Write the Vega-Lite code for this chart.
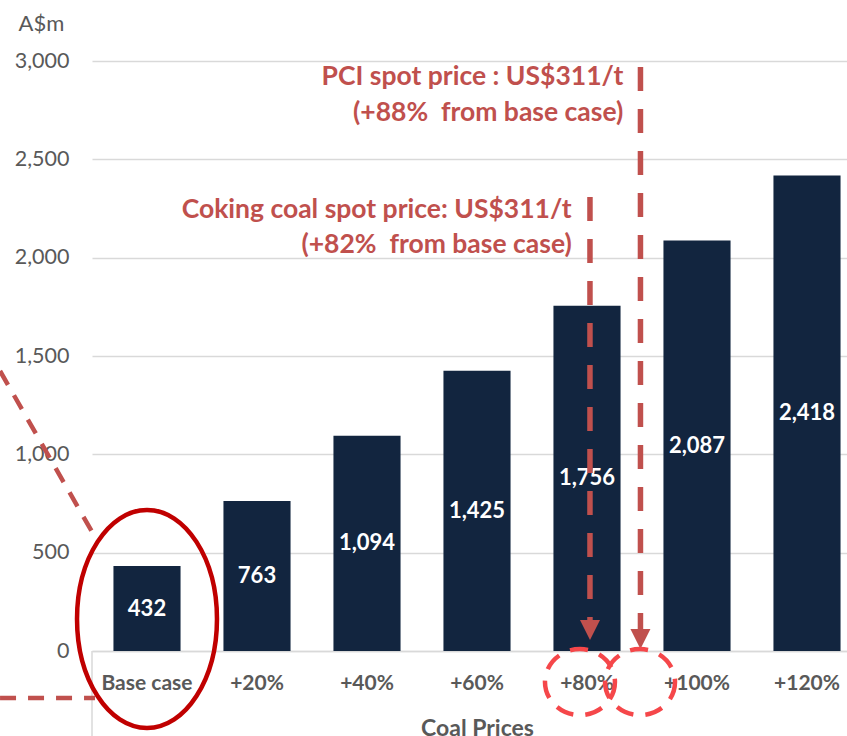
{
  "$schema": "https://vega.github.io/schema/vega-lite/v6.json",
  "width": 770,
  "height": 590,
  "autosize": {"type": "none"},
  "padding": {"left": 92, "top": 61, "right": 0, "bottom": 85},
  "config": {"view": {"stroke": null}, "font": "Lato"},
  "datasets": {
    "bars": [
      {"case": "Base case", "value": 432},
      {"case": "+20%", "value": 763},
      {"case": "+40%", "value": 1094},
      {"case": "+60%", "value": 1425},
      {"case": "+80%", "value": 1756},
      {"case": "+100%", "value": 2087},
      {"case": "+120%", "value": 2418}
    ]
  },
  "resolve": {"scale": {"x": "independent", "y": "independent"}},
  "layer": [
    {
      "data": {"name": "bars"},
      "mark": {"type": "bar", "color": "#12253f"},
      "encoding": {
        "x": {
          "field": "case", "type": "nominal", "sort": null,
          "scale": {"paddingInner": 0.39, "paddingOuter": 0.195},
          "axis": {
            "title": "Coal Prices", "titleFontSize": 23, "titleFontWeight": "bold", "titleColor": "#595959",
            "titlePadding": 24,
            "labelFontSize": 21, "labelFontWeight": "bold", "labelColor": "#595959", "labelAngle": 0,
            "labelPadding": 21, "ticks": false, "domainColor": "#d9d9d9", "domainWidth": 1.5
          }
        },
        "y": {
          "field": "value", "type": "quantitative",
          "scale": {"domain": [0, 3000], "nice": false},
          "axis": {
            "values": [0, 500, 1000, 1500, 2000, 2500, 3000], "format": ",.0f",
            "labelFontSize": 21.5, "labelColor": "#595959", "labelPadding": 23,
            "ticks": false, "domain": false, "gridColor": "#d9d9d9", "gridWidth": 1.5,
            "title": "A$m", "titleAngle": 0, "titleAlign": "left", "titleBaseline": "middle",
            "titleX": -74, "titleY": -38, "titleFontSize": 22, "titleFontWeight": "normal", "titleColor": "#595959"
          }
        }
      }
    },
    {
      "data": {"name": "bars"},
      "mark": {"type": "text", "color": "white", "fontWeight": "bold", "fontSize": 22, "baseline": "middle"},
      "encoding": {
        "x": {"field": "case", "type": "nominal", "sort": null, "scale": {"paddingInner": 0.39, "paddingOuter": 0.195}, "axis": null},
        "y": {"field": "value", "type": "quantitative", "scale": {"domain": [0, 6000], "nice": false}, "axis": null},
        "text": {"field": "value", "type": "quantitative", "format": ",.0f"}
      }
    },
    {
      "layer": [
        {
          "data": {"values": [
            {"x": 0, "y": 0, "y2": -450}
          ]},
          "mark": {"type": "rule", "color": "#d9d9d9", "strokeWidth": 1.5},
          "encoding": {
            "x": {"field": "x", "type": "quantitative", "scale": {"domain": [0, 7], "nice": false, "zero": false}, "axis": null},
            "y": {"field": "y", "type": "quantitative", "scale": {"domain": [0, 3000], "nice": false, "zero": false}, "axis": null},
            "y2": {"field": "y2"}
          }
        },
        {
          "data": {"values": [
            {"x": 4.527, "y": 2308, "y2": 150},
            {"x": 4.986, "y": 2970, "y2": 105}
          ]},
          "mark": {"type": "rule", "color": "#c0504d", "strokeWidth": 5.5, "strokeDash": [24, 18]},
          "encoding": {
            "x": {"field": "x", "type": "quantitative", "scale": {"domain": [0, 7], "nice": false, "zero": false}, "axis": null},
            "y": {"field": "y", "type": "quantitative", "scale": {"domain": [0, 3000], "nice": false, "zero": false}, "axis": null},
            "y2": {"field": "y2"}
          }
        },
        {
          "data": {"values": [
            {"x": -0.836, "y": 1424, "x2": 0.027, "y2": 580},
            {"x": -0.836, "y": -239, "x2": 0.027, "y2": -239}
          ]},
          "mark": {"type": "rule", "color": "#c0504d", "strokeWidth": 4.5, "strokeDash": [16, 12]},
          "encoding": {
            "x": {"field": "x", "type": "quantitative", "scale": {"domain": [0, 7], "nice": false, "zero": false}, "axis": null},
            "x2": {"field": "x2"},
            "y": {"field": "y", "type": "quantitative", "scale": {"domain": [0, 3000], "nice": false, "zero": false}, "axis": null},
            "y2": {"field": "y2"}
          }
        },
        {
          "data": {"values": [
            {"x": 4.527, "y": 107},
            {"x": 4.986, "y": 61}
          ]},
          "mark": {"type": "point", "shape": "M-1,-1L1,-1L0,1Z", "size": 400, "filled": true, "color": "#c0504d", "opacity": 1},
          "encoding": {
            "x": {"field": "x", "type": "quantitative", "scale": {"domain": [0, 7], "nice": false, "zero": false}, "axis": null},
            "y": {"field": "y", "type": "quantitative", "scale": {"domain": [0, 3000], "nice": false, "zero": false}, "axis": null}
          }
        },
        {
          "data": {"values": [
            {"x": 0.5, "y": 163}
          ]},
          "mark": {"type": "point", "shape": "M0.642,0C0.642,0.5523 0.3546,1 0,1C-0.3546,1 -0.642,0.5523 -0.642,0C-0.642,-0.5523 -0.3546,-1 0,-1C0.3546,-1 0.642,-0.5523 0.642,0Z", "size": 47524, "filled": false, "stroke": "#c00000", "strokeWidth": 4.5, "opacity": 1},
          "encoding": {
            "x": {"field": "x", "type": "quantitative", "scale": {"domain": [0, 7], "nice": false, "zero": false}, "axis": null},
            "y": {"field": "y", "type": "quantitative", "scale": {"domain": [0, 3000], "nice": false, "zero": false}, "axis": null}
          }
        },
        {
          "data": {"values": [
            {"x": 4.436, "y": -158},
            {"x": 4.982, "y": -158}
          ]},
          "mark": {"type": "point", "shape": "M1.06,0C1.06,0.5523 0.5854,1 0,1C-0.5854,1 -1.06,0.5523 -1.06,0C-1.06,-0.5523 -0.5854,-1 0,-1C0.5854,-1 1.06,-0.5523 1.06,0Z", "size": 4356, "filled": false, "stroke": "#f5474a", "strokeWidth": 4.5, "strokeDash": [18, 12], "opacity": 1},
          "encoding": {
            "x": {"field": "x", "type": "quantitative", "scale": {"domain": [0, 7], "nice": false, "zero": false}, "axis": null},
            "y": {"field": "y", "type": "quantitative", "scale": {"domain": [0, 3000], "nice": false, "zero": false}, "axis": null}
          }
        },
        {
          "data": {"values": [
            {"label": "PCI spot price : US$311/t", "x": 4.83, "y": 2919},
            {"label": "(+88%\u00a0 from base case)", "x": 4.83, "y": 2736},
            {"label": "Coking coal spot price: US$311/t", "x": 4.361, "y": 2243},
            {"label": "(+82%\u00a0 from base case)", "x": 4.361, "y": 2065}
          ]},
          "mark": {"type": "text", "align": "right", "baseline": "middle", "fontWeight": "bold", "fontSize": 26.5, "color": "#c0504d"},
          "encoding": {
            "x": {"field": "x", "type": "quantitative", "scale": {"domain": [0, 7], "nice": false, "zero": false}, "axis": null},
            "y": {"field": "y", "type": "quantitative", "scale": {"domain": [0, 3000], "nice": false, "zero": false}, "axis": null},
            "text": {"field": "label"}
          }
        }
      ]
    }
  ]
}
